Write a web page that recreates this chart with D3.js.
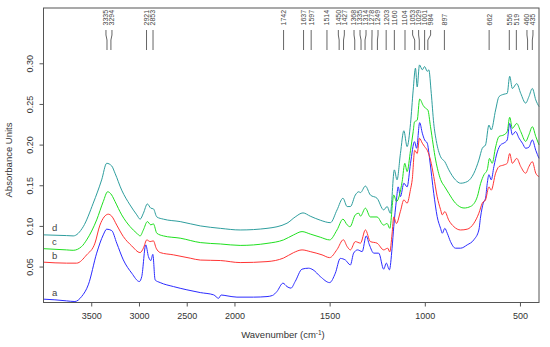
<!DOCTYPE html>
<html><head><meta charset="utf-8">
<script src="https://cdn.jsdelivr.net/npm/d3@7"></script>
<style>body{margin:0;background:#fff}svg{display:block;font-family:"Liberation Sans",Arial,sans-serif}</style>
</head><body><svg id="c" width="550" height="347"></svg>
<script>
// ---- data (wavenumber cm-1, absorbance) ----
const specA = [[4000,0.0099],[3881,0.0091],[3758,0.0078],[3671,0.0070],[3601,0.0131],[3531,0.0275],[3443,0.0665],[3374,0.089],[3338,0.096],[3286,0.0943],[3233,0.0788],[3164,0.0582],[3076,0.0419],[2996,0.0316],[2971,0.0377],[2929,0.0767],[2901,0.0623],[2876,0.0574],[2855,0.065],[2831,0.0336],[2778,0.0303],[2639,0.0254],[2498,0.0214],[2358,0.018],[2218,0.0152],[2166,0.011],[2140,0.015],[2078,0.014],[1987,0.0124],[1900,0.0124],[1829,0.0131],[1800,0.0145],[1777,0.0193],[1745,0.0296],[1724,0.0254],[1703,0.0235],[1681,0.0316],[1645,0.0468],[1611,0.048],[1587,0.046],[1549,0.0377],[1500,0.0303],[1470,0.0419],[1444,0.060],[1417,0.058],[1391,0.052],[1374,0.0665],[1353,0.0705],[1329,0.0684],[1308,0.0877],[1291,0.0767],[1268,0.0665],[1242,0.0665],[1216,0.0468],[1202,0.0542],[1186,0.046],[1172,0.0726],[1163,0.0992],[1149,0.132],[1140,0.148],[1128,0.136],[1110,0.1525],[1093,0.148],[1075,0.177],[1054,0.2036],[1043,0.1955],[1027,0.227],[1013,0.214],[1001,0.2057],[987,0.2017],[974,0.181],[953,0.140],[935,0.1115],[917,0.097],[908,0.091],[895,0.097],[882,0.091],[865,0.0807],[839,0.0726],[812,0.0726],[777,0.0767],[742,0.083],[716,0.095],[707,0.111],[693,0.128],[681,0.134],[672,0.152],[663,0.163],[651,0.1566],[637,0.173],[619,0.191],[602,0.1996],[584,0.202],[567,0.2057],[554,0.226],[540,0.212],[523,0.216],[505,0.208],[487,0.2017],[470,0.1955],[453,0.1968],[435,0.2057],[417,0.193],[400,0.183]];
const specB = [[4000,0.0554],[3758,0.0542],[3653,0.0542],[3548,0.0644],[3461,0.0788],[3409,0.101],[3321,0.1144],[3286,0.112],[3233,0.101],[3164,0.0869],[3076,0.0754],[2988,0.0672],[2954,0.0726],[2918,0.0828],[2883,0.0807],[2849,0.0816],[2820,0.0726],[2778,0.0672],[2639,0.0644],[2463,0.0603],[2358,0.058],[2148,0.0574],[1970,0.0549],[1829,0.0561],[1742,0.0605],[1689,0.0672],[1645,0.0705],[1602,0.0684],[1540,0.0644],[1500,0.061],[1461,0.071],[1428,0.083],[1408,0.0746],[1391,0.0705],[1365,0.0807],[1338,0.0788],[1312,0.0951],[1286,0.0807],[1251,0.0788],[1216,0.0705],[1195,0.0726],[1184,0.068],[1172,0.090],[1163,0.111],[1149,0.103],[1128,0.118],[1110,0.132],[1093,0.128],[1075,0.145],[1066,0.157],[1053,0.193],[1040,0.189],[1028,0.2078],[1013,0.2017],[1001,0.1975],[987,0.193],[970,0.181],[953,0.1606],[935,0.136],[917,0.120],[908,0.1136],[895,0.1176],[874,0.107],[847,0.099],[812,0.095],[777,0.096],[742,0.1033],[716,0.1156],[698,0.128],[681,0.132],[663,0.148],[651,0.144],[628,0.1648],[610,0.173],[584,0.175],[567,0.177],[554,0.189],[540,0.177],[517,0.183],[496,0.173],[470,0.1648],[453,0.173],[435,0.179],[417,0.1648],[400,0.1606]];
const specC = [[4000,0.072],[3758,0.0705],[3689,0.070],[3601,0.0746],[3548,0.0828],[3443,0.1074],[3374,0.130],[3328,0.142],[3286,0.138],[3251,0.130],[3181,0.1136],[3094,0.0992],[3023,0.091],[2988,0.0877],[2954,0.0951],[2912,0.1053],[2876,0.1013],[2849,0.1025],[2813,0.091],[2744,0.0877],[2568,0.0849],[2358,0.0795],[2148,0.0778],[1970,0.076],[1829,0.0785],[1742,0.0828],[1689,0.089],[1645,0.093],[1602,0.090],[1549,0.0861],[1500,0.0828],[1461,0.0951],[1430,0.1083],[1408,0.1013],[1393,0.099],[1365,0.1136],[1347,0.1156],[1338,0.112],[1312,0.1218],[1286,0.111],[1251,0.111],[1216,0.101],[1198,0.103],[1184,0.097],[1163,0.138],[1149,0.130],[1119,0.1545],[1105,0.177],[1093,0.1668],[1075,0.193],[1061,0.216],[1054,0.228],[1040,0.23],[1027,0.256],[1008,0.248],[996,0.2447],[984,0.2426],[970,0.222],[943,0.181],[917,0.157],[895,0.148],[874,0.140],[839,0.128],[794,0.122],[759,0.124],[724,0.136],[707,0.152],[689,0.163],[672,0.169],[660,0.183],[646,0.177],[628,0.197],[610,0.21],[584,0.212],[567,0.216],[554,0.2336],[540,0.22],[517,0.226],[496,0.216],[470,0.204],[453,0.212],[435,0.222],[417,0.21],[400,0.1996]];
const specD = [[4000,0.089],[3758,0.0881],[3689,0.0877],[3584,0.099],[3479,0.128],[3391,0.1566],[3338,0.177],[3286,0.1738],[3251,0.1648],[3181,0.144],[3094,0.1258],[3023,0.1136],[2988,0.1083],[2954,0.1156],[2912,0.127],[2876,0.1218],[2849,0.121],[2813,0.111],[2744,0.1083],[2568,0.1053],[2358,0.100],[2148,0.097],[1970,0.095],[1829,0.097],[1724,0.1033],[1681,0.111],[1640,0.116],[1602,0.112],[1549,0.107],[1496,0.104],[1461,0.1197],[1430,0.134],[1408,0.1238],[1391,0.1238],[1365,0.138],[1347,0.142],[1338,0.141],[1312,0.149],[1286,0.138],[1251,0.134],[1216,0.1197],[1198,0.1238],[1181,0.1156],[1160,0.1689],[1146,0.1566],[1128,0.189],[1110,0.217],[1093,0.1975],[1075,0.226],[1061,0.267],[1049,0.294],[1040,0.271],[1028,0.298],[1013,0.292],[1001,0.296],[987,0.290],[979,0.292],[966,0.263],[953,0.226],[940,0.205],[917,0.185],[895,0.179],[874,0.169],[839,0.1566],[812,0.1525],[777,0.1545],[742,0.1648],[716,0.181],[698,0.1955],[681,0.1996],[663,0.224],[651,0.218],[628,0.2426],[610,0.259],[584,0.262],[567,0.263],[554,0.284],[540,0.269],[517,0.275],[496,0.263],[470,0.251],[453,0.259],[435,0.269],[417,0.255],[400,0.2467]];
const seriesNames = ["a","b","c","d"];
const seriesColors = ["#2b2bff","#ff3434","#1fe01f","#2e9e9e"];
const peakLabels = [3335,3294,2921,2853,1742,1637,1597,1514,1450,1427,1368,1335,1314,1278,1249,1203,1160,1104,1053,1029,1001,984,897,662,556,519,460,435];
const xTicks = [3500,3000,2500,2000,1500,1000,500];
const yTicks = [0.05,0.10,0.15,0.20,0.25,0.30];

// ---- layout ----
const L=43.5, R=539, T=8, B=302.5;
const split = L + (R-L)*0.3854;
const x = d3.scaleLinear().domain([4000,2000,400]).range([L,split,R]);
const y = d3.scaleLinear().domain([0.0058,0.368]).range([B,T]);
const svg = d3.select("#c");
const axisCol="#555", txtCol="#333";

// curves
const line = d3.line().x(d=>x(d[0])).y(d=>y(d[1])).curve(d3.curveMonotoneX);
const specs=[specA,specB,specC,specD];
specs.forEach((s,i)=>{
  svg.append("path").attr("d",line(s)).attr("fill","none")
    .attr("stroke",seriesColors[i]).attr("stroke-width",1);
  svg.append("text").attr("x",L+8.5).attr("y",y(s[0][1])-3.5)
    .attr("font-size",9.5).attr("fill","#444").text(seriesNames[i]);
});

// box
svg.append("rect").attr("x",L).attr("y",T).attr("width",R-L).attr("height",B-T)
  .attr("fill","none").attr("stroke",axisCol).attr("stroke-width",1);

// x axis
const xa = svg.append("g").attr("transform",`translate(0,${B})`)
  .call(d3.axisBottom(x).tickValues(xTicks).tickSize(4).tickSizeOuter(0).tickFormat(d3.format("d")));
xa.select(".domain").remove();
xa.selectAll("line").attr("stroke",axisCol);
xa.selectAll("text").attr("font-size",9).attr("fill",txtCol).attr("dy","1.05em")
  .attr("font-family","Liberation Sans, Arial, sans-serif");

// y axis
const ya = svg.append("g").attr("transform",`translate(${L},0)`)
  .call(d3.axisLeft(y).tickValues(yTicks).tickSize(4).tickSizeOuter(0).tickFormat(d3.format(".2f")));
ya.select(".domain").remove();
ya.selectAll("line").attr("stroke",axisCol);
ya.selectAll("text").attr("font-size",9).attr("fill",txtCol)
  .attr("font-family","Liberation Sans, Arial, sans-serif")
  .attr("text-anchor","middle").attr("x",null).attr("dy",null)
  .attr("transform","translate(-13.5,0) rotate(-90)").attr("dy","0.35em");

// titles
svg.append("text").attr("transform","translate(12,160) rotate(-90)").attr("text-anchor","middle")
  .attr("font-size",9.5).attr("fill",txtCol).text("Absorbance Units");
const xt = svg.append("text").attr("x",283).attr("y",338).attr("text-anchor","middle")
  .attr("font-size",9.5).attr("fill",txtCol);
xt.append("tspan").text("Wavenumber (cm");
xt.append("tspan").attr("font-size",6.5).attr("dy",-3.5).text("-1");
xt.append("tspan").attr("dy",3.5).text(")");

// peak label layout: cluster and spread with minimum spacing
const sp = 6;
let clusters = peakLabels.map(w=>({items:[x(w)]}));
clusters.forEach(c=>{c.center=c.items[0];});
const pos = c=>{const n=c.items.length;return c.items.map((_,k)=>c.center+(k-(n-1)/2)*sp);};
let merged=true;
while(merged){
  merged=false;
  for(let i=0;i<clusters.length-1;i++){
    const a=clusters[i], b=clusters[i+1];
    const pa=pos(a), pb=pos(b);
    if(pb[0]-pa[pa.length-1] < sp-0.01){
      const items=a.items.concat(b.items);
      clusters.splice(i,2,{items,center:d3.mean(items)});
      merged=true;break;
    }
  }
}
const labelX=[].concat(...clusters.map(pos));
const pk = svg.append("g");
peakLabels.forEach((w,i)=>{
  const tx=x(w), lx=labelX[i];
  pk.append("path").attr("d",`M${lx},30 L${lx},35 L${tx},40 L${tx},50`)
    .attr("fill","none").attr("stroke","#666").attr("stroke-width",1);
  pk.append("text").attr("transform",`translate(${lx+2.4},25.5) rotate(-90)`)
    .attr("font-size",7).attr("fill","#444").text(w);
});
</script></body></html>
